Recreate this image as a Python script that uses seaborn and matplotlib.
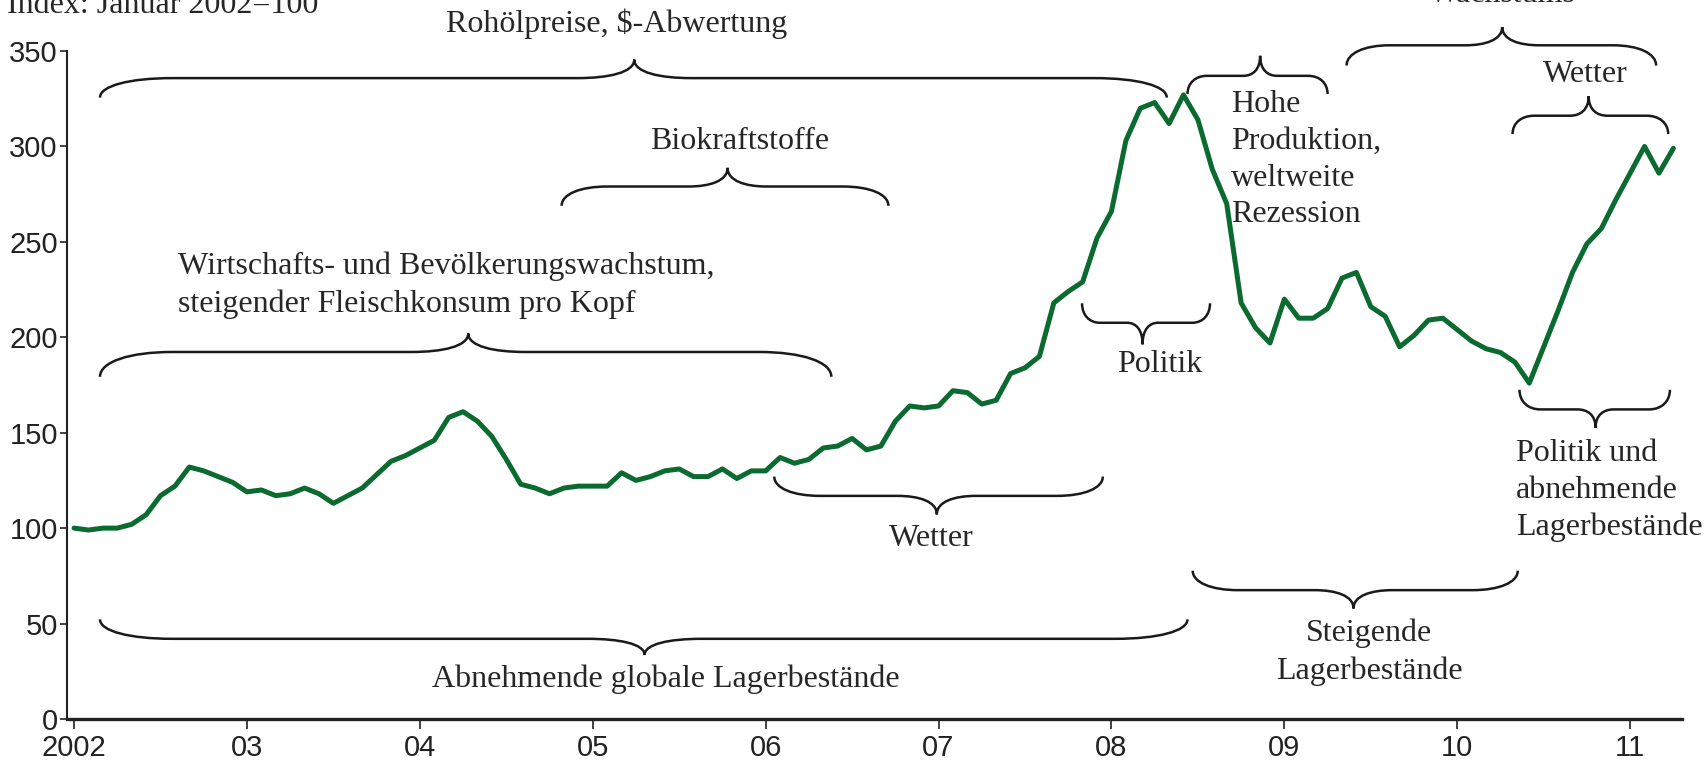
import numpy as np
import pandas as pd
import matplotlib
matplotlib.use("Agg")
import matplotlib.pyplot as plt
from matplotlib.path import Path
from matplotlib.patches import PathPatch
import seaborn as sns

# Food price index, monthly, Jan 2002 = 100
months = pd.date_range("2002-01-01", "2011-04-01", freq="MS")
index_values = [
    100, 99, 100, 100, 102, 107, 117, 122, 132, 130, 127, 124,
    119, 120, 117, 118, 121, 118, 113, 117, 121, 128, 135, 138,
    142, 146, 158, 161, 156, 148, 136, 123, 121, 118, 121, 122,
    122, 122, 129, 125, 127, 130, 131, 127, 127, 131, 126, 130,
    130, 137, 134, 136, 142, 143, 147, 141, 143, 156, 164, 163,
    164, 172, 171, 165, 167, 181, 184, 190, 218, 224, 229, 252,
    266, 303, 320, 323, 312, 327, 314, 288, 270, 218, 205, 197,
    220, 210, 210, 215, 231, 234, 216, 211, 195, 201, 209, 210,
    204, 198, 194, 192, 187, 176, 195, 214, 234, 249, 257, 272,
    286, 300, 286, 299,
]
year_ticks = list(range(2002, 2012))
year_labels = ["2002", "03", "04", "05", "06", "07", "08", "09", "10", "11"]
y_ticks = [0, 50, 100, 150, 200, 250, 300, 350]

df = pd.DataFrame({"month": months, "index": index_values})
df["year_frac"] = df["month"].dt.year + (df["month"].dt.month - 1) / 12

sns.set_style("ticks")
plt.rcParams["font.family"] = ["Liberation Sans", "DejaVu Sans"]
SERIF = ["Liberation Serif", "DejaVu Serif"]
TXT = 23

fig = plt.figure(figsize=(17.04, 7.66), dpi=100)
ax = fig.add_axes([0.0396, 0.0614, 0.9475, 0.872])

sns.lineplot(data=df, x="year_frac", y="index", color="#0b6a2f", lw=3.6, ax=ax)

ax.set_xlim(2001.962, 2011.30)
ax.set_ylim(0, 350)
ax.set_xticks(year_ticks)
ax.set_xticklabels(year_labels)
ax.set_yticks(y_ticks)
ax.set_xlabel("")
ax.set_ylabel("")
ax.tick_params(axis="both", labelsize=21, colors="#222222", width=1.2)
ax.tick_params(axis="x", length=7, pad=4)
ax.tick_params(axis="y", length=5, pad=2)
sns.despine(ax=ax)
ax.spines["left"].set_linewidth(1.5)
ax.spines["bottom"].set_linewidth(2.4)
ax.spines["left"].set_color("#222222")
ax.spines["bottom"].set_color("#222222")


def brace(ax, x0, x1, xm, y_end, y_line, y_tip):
    span = x1 - x0
    we = min(0.42, 0.14 * span)
    wt = min(0.33, 0.12 * span)
    h = y_line - y_end
    d = y_tip - y_line
    verts = [
        (x0, y_end),
        (x0, y_end + 0.6 * h), (x0 + 0.4 * we, y_line), (x0 + we, y_line),
        (xm - wt, y_line),
        (xm - 0.45 * wt, y_line), (xm, y_line + 0.3 * d), (xm, y_tip),
        (xm, y_line + 0.3 * d), (xm + 0.45 * wt, y_line), (xm + wt, y_line),
        (x1 - we, y_line),
        (x1 - 0.4 * we, y_line), (x1, y_end + 0.6 * h), (x1, y_end),
    ]
    codes = ([Path.MOVETO] + [Path.CURVE4] * 3 + [Path.LINETO] + [Path.CURVE4] * 6
             + [Path.LINETO] + [Path.CURVE4] * 3)
    ax.add_patch(PathPatch(Path(verts, codes), fill=False, lw=1.8,
                           edgecolor="#1a1a1a", clip_on=False))


# braces: x0, x1, tip x, y at ends, y of line, y at tip
brace(ax, 2002.15, 2008.32, 2005.24, 325.6, 335.8, 345.5)
brace(ax, 2004.82, 2006.71, 2005.78, 268.9, 279.0, 288.8)
brace(ax, 2002.15, 2006.38, 2004.28, 179.3, 192.3, 202.0)
brace(ax, 2002.15, 2008.44, 2005.30, 52.2, 42.0, 33.5)
brace(ax, 2006.05, 2007.95, 2006.99, 127.0, 116.9, 107.2)
brace(ax, 2007.83, 2008.57, 2008.18, 217.8, 207.6, 196.3)
brace(ax, 2008.44, 2009.25, 2008.86, 327.5, 337.0, 347.5)
brace(ax, 2009.36, 2011.15, 2010.26, 342.4, 353.0, 362.6)
brace(ax, 2010.32, 2011.22, 2010.76, 306.5, 316.1, 326.3)
brace(ax, 2010.36, 2011.23, 2010.80, 172.5, 162.2, 152.6)
brace(ax, 2008.47, 2010.35, 2009.40, 77.7, 67.5, 57.9)

labels = [
    (2005.14, 364.2, "Rohölpreise, $-Abwertung", "center"),
    (2005.85, 302.4, "Biokraftstoffe", "center"),
    (2002.60, 227.2, "Wirtschafts- und Bevölkerungswachstum,\nsteigender Fleischkonsum pro Kopf", "left"),
    (2005.42, 21.0, "Abnehmende globale Lagerbestände", "center"),
    (2006.96, 94.7, "Wetter", "center"),
    (2008.28, 185.5, "Politik", "center"),
    (2008.69, 293.0, "Hohe\nProduktion,\nweltweite\nRezession", "left"),
    (2010.74, 337.5, "Wetter", "center"),
    (2010.34, 119.7, "Politik und\nabnehmende\nLagerbestände", "left"),
    (2009.49, 34.9, "Steigende\nLagerbestände", "center"),
]
for x, y, s, ha in labels:
    ax.text(x, y, s, ha=ha, va="center", family=SERIF, fontsize=TXT,
            linespacing=1.35, multialignment=ha if ha == "left" else "center",
            clip_on=False)

ax.text(2010.26, 375.5, "Wachstums", ha="center", va="baseline", family=SERIF,
        fontsize=TXT, clip_on=False)
fig.text(0.004, 0.9834, "Index: Januar 2002=100", ha="left", va="baseline",
         family=SERIF, fontsize=TXT)

fig.savefig("out.png", dpi=100)
